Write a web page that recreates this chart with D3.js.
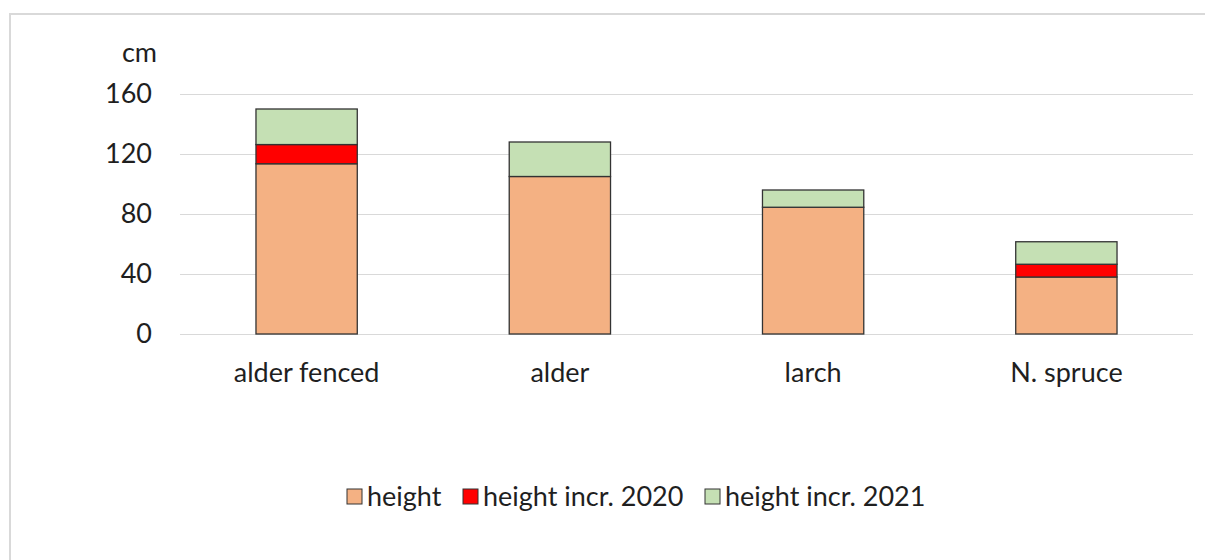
<!DOCTYPE html>
<html>
<head>
<meta charset="utf-8">
<script src="https://cdn.jsdelivr.net/npm/d3@7"></script>
<style>
  html, body { margin: 0; padding: 0; background: #fff; }
  svg { display: block; font-family: Lato, "Open Sans", "DejaVu Sans", sans-serif; }
</style>
</head>
<body>
<svg id="chart" width="1205" height="560"></svg>
<script>
// Tree height by planting group (cm)
const categories = ["alder fenced", "alder", "larch", "N. spruce"];
const height = [113.5, 105, 84.5, 38];
const incr2020 = [12.8, 0, 0, 8.5];
const incr2021 = [23.7, 23, 11.5, 15];
const seriesNames = ["height", "height incr. 2020", "height incr. 2021"];
const seriesColors = ["#F4B183", "#FF0000", "#C5E0B4"];
const yTicks = [0, 40, 80, 120, 160];

const svg = d3.select("#chart");
const fontSize = 27;
const textColor = "#1f1f1f";

// outer chart frame
svg.append("rect")
  .attr("x", 10).attr("y", 14)
  .attr("width", 1205).attr("height", 560)
  .attr("fill", "none")
  .attr("stroke", "#d9d9d9")
  .attr("stroke-width", 2);

const plot = { left: 180, right: 1193, top: 94, bottom: 334 };

const x = d3.scaleBand()
  .domain(categories)
  .range([plot.left, plot.right])
  .paddingInner(0.6)
  .paddingOuter(0.3);

const y = d3.scaleLinear()
  .domain([0, 160])
  .range([plot.bottom, plot.top]);

// gridlines
svg.append("g")
  .selectAll("line")
  .data(yTicks)
  .join("line")
  .attr("x1", plot.left).attr("x2", plot.right)
  .attr("y1", d => Math.round(y(d)) + 0.5)
  .attr("y2", d => Math.round(y(d)) + 0.5)
  .attr("stroke", "#d9d9d9")
  .attr("stroke-width", 1);

// y axis labels
const yAxis = d3.axisLeft(y).tickValues(yTicks).tickSize(0).tickPadding(28);
const yg = svg.append("g")
  .attr("transform", `translate(${plot.left},0)`)
  .call(yAxis);
yg.select(".domain").remove();
yg.selectAll("text")
  .attr("font-size", fontSize)
  .attr("font-family", "Lato, 'Open Sans', sans-serif")
  .attr("fill", textColor);

svg.append("text")
  .attr("x", 157).attr("y", 53)
  .attr("text-anchor", "end")
  .attr("dy", "0.35em")
  .attr("font-size", fontSize)
  .attr("fill", textColor)
  .text("cm");

// stacked bars
const rows = categories.map((c, i) => ({
  category: c,
  "height": height[i],
  "height incr. 2020": incr2020[i],
  "height incr. 2021": incr2021[i]
}));
const stacked = d3.stack().keys(seriesNames)(rows);

svg.append("g")
  .selectAll("g")
  .data(stacked)
  .join("g")
  .attr("fill", (d, i) => seriesColors[i])
  .selectAll("rect")
  .data(d => d.filter(p => p[1] - p[0] > 0))
  .join("rect")
  .attr("x", d => x(d.data.category))
  .attr("width", x.bandwidth())
  .attr("y", d => y(d[1]))
  .attr("height", d => y(d[0]) - y(d[1]))
  .attr("stroke", "#333")
  .attr("stroke-width", 1.3);

// category labels
const xAxis = d3.axisBottom(x).tickSize(0).tickPadding(0);
const xg = svg.append("g")
  .attr("transform", `translate(0,${plot.bottom})`)
  .call(xAxis);
xg.select(".domain").remove();
xg.selectAll("text")
  .attr("y", 39)
  .attr("dy", "0.35em")
  .attr("font-size", fontSize)
  .attr("font-family", "Lato, 'Open Sans', sans-serif")
  .attr("fill", textColor);

// legend
const legendX = [347, 463, 705];
const legend = svg.append("g");
seriesNames.forEach((name, i) => {
  legend.append("rect")
    .attr("x", legendX[i]).attr("y", 489)
    .attr("width", 15).attr("height", 15)
    .attr("fill", seriesColors[i])
    .attr("stroke", "#333")
    .attr("stroke-width", 1);
  legend.append("text")
    .attr("x", legendX[i] + 20).attr("y", 496.5)
    .attr("dy", "0.35em")
    .attr("font-size", fontSize)
    .attr("fill", textColor)
    .text(name);
});
</script>
</body>
</html>
